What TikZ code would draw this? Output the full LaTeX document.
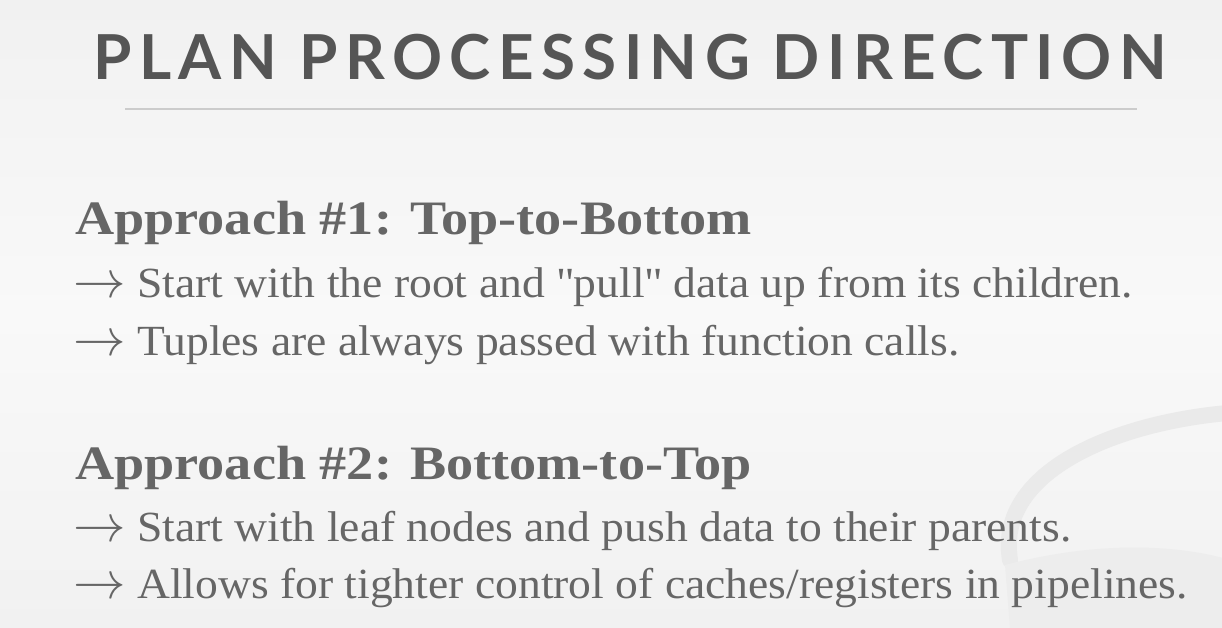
\RequirePackage{fix-cm}
\documentclass[tikz,border=0pt]{standalone}
\usepackage{fontspec}
\setmainfont[FakeStretch=1.06]{Liberation Serif}
\newfontfamily\headfont[FakeStretch=1.13]{Liberation Serif}
\newfontfamily\titlefont[LetterSpace=12]{Lato}
\definecolor{bgcol}{HTML}{F1F1F1}
\definecolor{bgwhite}{HTML}{F9F9F9}
\definecolor{titlecol}{HTML}{555555}
\definecolor{textcol}{HTML}{666666}
\definecolor{rulecol}{HTML}{CCCCCC}
\definecolor{swoosh}{HTML}{EAEAEA}
\newcommand\arrowglyph{\makebox[64pt][l]{\scalebox{1.22}{$\rightarrow$}}}
\tikzset{
  titletext/.style={anchor=base west, inner sep=0pt, text=titlecol, font=\titlefont\bfseries\fontsize{62}{62}\selectfont},
  headtext/.style={anchor=base west, inner sep=0pt, text=textcol, font=\headfont\bfseries\fontsize{48}{48}\selectfont},
  bullettext/.style={anchor=base west, inner sep=0pt, text=textcol, font=\fontsize{43}{43}\selectfont},
}
\begin{document}
\begin{tikzpicture}[x=1pt,y=-1pt]
\useasboundingbox (0,0) rectangle (1222,628);
\shade[top color=bgcol, bottom color=bgcol, middle color=bgwhite] (0,0) rectangle (1222,628);
% faint swoosh at the right
\draw[swoosh, line width=16pt, line cap=round] (1010,560) .. controls (995,470) and (1120,420) .. (1240,412);
\fill[swoosh!60!bgcol] (1005,565) .. controls (1100,540) and (1180,545) .. (1230,560) -- (1230,628) -- (1010,628) -- cycle;
\node[titletext] (title) at (93,80) {PLAN PROCESSING DIRECTION};
\draw[rulecol, line width=2.5pt] (125,109) coordinate (rl) -- (1137,109) coordinate (rr);
\node[headtext] (h1) at (75,234) {Approach \#1: Top-to-Bottom};
\node[bullettext] (b1) at (73,297) {\arrowglyph Start with the root and \textquotedbl pull\textquotedbl\ data up from its children.};
\node[bullettext] (b2) at (73,355) {\arrowglyph Tuples are always passed with function calls.};
\node[headtext] (h2) at (75,479) {Approach \#2: Bottom-to-Top};
\node[bullettext] (b3) at (73,541) {\arrowglyph Start with leaf nodes and push data to their parents.};
\node[bullettext] (b4) at (73,598) {\arrowglyph Allows for tighter control of caches/registers in pipelines.};
\end{tikzpicture}
\end{document}
